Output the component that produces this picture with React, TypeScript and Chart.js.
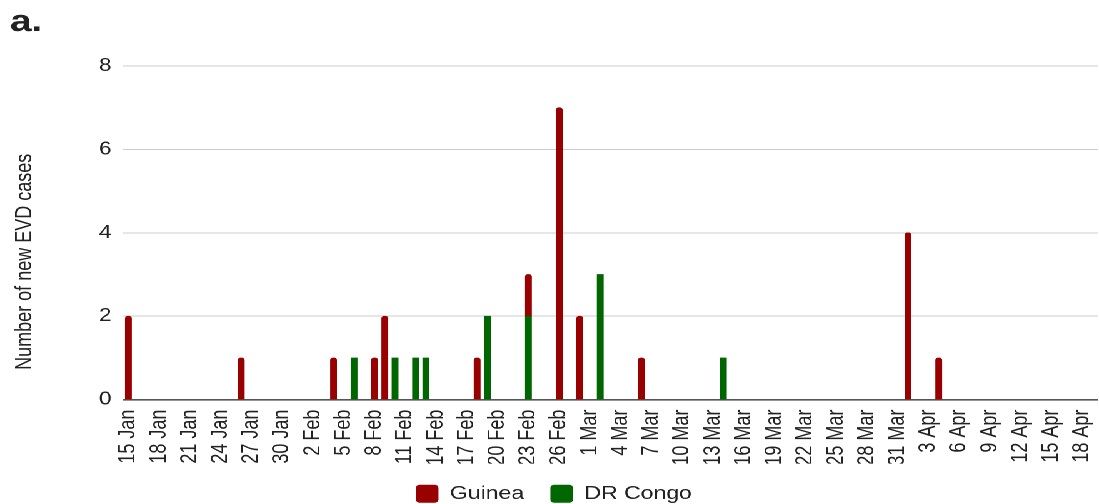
import React, { useEffect, useRef } from "react";
import { Chart, registerables } from "chart.js";

Chart.register(...registerables);

// Daily categories, 15 Jan – 19 Apr
const days = [
  "15 Jan", "16 Jan", "17 Jan", "18 Jan", "19 Jan", "20 Jan", "21 Jan", "22 Jan", "23 Jan", "24 Jan",
  "25 Jan", "26 Jan", "27 Jan", "28 Jan", "29 Jan", "30 Jan", "31 Jan",
  "1 Feb", "2 Feb", "3 Feb", "4 Feb", "5 Feb", "6 Feb", "7 Feb", "8 Feb", "9 Feb", "10 Feb",
  "11 Feb", "12 Feb", "13 Feb", "14 Feb", "15 Feb", "16 Feb", "17 Feb", "18 Feb", "19 Feb", "20 Feb",
  "21 Feb", "22 Feb", "23 Feb", "24 Feb", "25 Feb", "26 Feb", "27 Feb", "28 Feb",
  "1 Mar", "2 Mar", "3 Mar", "4 Mar", "5 Mar", "6 Mar", "7 Mar", "8 Mar", "9 Mar", "10 Mar",
  "11 Mar", "12 Mar", "13 Mar", "14 Mar", "15 Mar", "16 Mar", "17 Mar", "18 Mar", "19 Mar", "20 Mar",
  "21 Mar", "22 Mar", "23 Mar", "24 Mar", "25 Mar", "26 Mar", "27 Mar", "28 Mar", "29 Mar", "30 Mar", "31 Mar",
  "1 Apr", "2 Apr", "3 Apr", "4 Apr", "5 Apr", "6 Apr", "7 Apr", "8 Apr", "9 Apr", "10 Apr",
  "11 Apr", "12 Apr", "13 Apr", "14 Apr", "15 Apr", "16 Apr", "17 Apr", "18 Apr", "19 Apr",
];

const xTickLabels = [
  "15 Jan", "18 Jan", "21 Jan", "24 Jan", "27 Jan", "30 Jan", "2 Feb", "5 Feb", "8 Feb", "11 Feb",
  "14 Feb", "17 Feb", "20 Feb", "23 Feb", "26 Feb", "1 Mar", "4 Mar", "7 Mar", "10 Mar", "13 Mar",
  "16 Mar", "19 Mar", "22 Mar", "25 Mar", "28 Mar", "31 Mar", "3 Apr", "6 Apr", "9 Apr", "12 Apr",
  "15 Apr", "18 Apr",
];

const yTicks = [0, 2, 4, 6, 8];

// Guinea new cases
const guineaDates = ["15 Jan", "26 Jan", "4 Feb", "8 Feb", "9 Feb", "18 Feb", "23 Feb", "26 Feb", "28 Feb", "6 Mar", "1 Apr", "4 Apr"];
const guineaCounts = [2, 1, 1, 1, 2, 1, 1, 7, 2, 1, 4, 1];

// DR Congo new cases
const drcDates = ["6 Feb", "10 Feb", "12 Feb", "13 Feb", "19 Feb", "23 Feb", "2 Mar", "14 Mar"];
const drcCounts = [1, 1, 1, 1, 2, 2, 3, 1];

const seriesNames = ["Guinea", "DR Congo"];
const yTitle = "Number of new EVD cases";
const panelLabel = "a.";

const FONT = "'Liberation Sans', Arial, Helvetica, sans-serif";
const INNER_W = 879;
const OUTER_W = 1099;
const H = 504;

function toSeries(dates: string[], counts: number[]) {
  return days.map((d) => {
    const i = dates.indexOf(d);
    return i >= 0 ? counts[i] : null;
  });
}

const yTitlePlugin = {
  id: "yTitleCustom",
  afterDraw(chart: any) {
    const { ctx, chartArea } = chart;
    const xs = chart.scales.x;
    ctx.save();
    ctx.translate(20, (chartArea.top + xs.bottom) / 2 - 3);
    ctx.rotate(-Math.PI / 2);
    ctx.font = `18px ${FONT}`;
    ctx.fillStyle = "#222";
    ctx.textAlign = "center";
    ctx.textBaseline = "middle";
    ctx.fillText(yTitle, 0, 0);
    ctx.restore();
  },
};

export default function App() {
  const ref = useRef<HTMLCanvasElement | null>(null);

  useEffect(() => {
    if (!ref.current) return;
    Chart.defaults.font.family = FONT;
    const chart = new Chart(ref.current, {
      type: "bar",
      data: {
        labels: days,
        datasets: [
          {
            label: seriesNames[1],
            data: toSeries(drcDates, drcCounts),
            backgroundColor: "#006600",
            borderWidth: 0,
            barThickness: 4.8,
          },
          {
            label: seriesNames[0],
            data: toSeries(guineaDates, guineaCounts),
            backgroundColor: "#990000",
            borderWidth: 0,
            barThickness: 4.8,
            borderRadius: { topLeft: 2.4, topRight: 2.4, bottomLeft: 0, bottomRight: 0 },
            borderSkipped: "bottom",
          },
        ],
      },
      options: {
        animation: false,
        responsive: false,
        devicePixelRatio: 2,
        layout: { padding: { left: 8, right: 1, top: 0, bottom: -9 } },
        plugins: {
          title: {
            display: true,
            text: panelLabel,
            align: "start",
            color: "#222",
            font: { size: 31, weight: "bold", family: FONT },
            padding: { top: 4, bottom: 24.8 },
          },
          legend: {
            position: "bottom",
            labels: {
              color: "#222",
              font: { size: 18.4, family: FONT },
              boxWidth: 18,
              boxHeight: 18,
              padding: 21,
              useBorderRadius: true,
              borderRadius: 3,
              sort: (a: any, b: any) => b.datasetIndex - a.datasetIndex,
            },
          },
          tooltip: { enabled: false },
        },
        scales: {
          x: {
            stacked: true,
            offset: true,
            grid: { display: false, drawTicks: false },
            border: { display: true, color: "#555", width: 1.6 },
            ticks: {
              autoSkip: false,
              minRotation: 90,
              maxRotation: 90,
              padding: 10,
              color: "#222",
              font: { size: 18, family: FONT },
              callback: (_v: any, idx: number) => (xTickLabels.includes(days[idx]) ? days[idx] : ""),
            },
            afterFit: (scale: any) => {
              scale.height = 64;
              scale.paddingLeft = 0;
              scale.paddingRight = 0;
            },
          },
          y: {
            stacked: true,
            min: 0,
            max: 8,
            grid: {
              drawTicks: false,
              color: (c: any) => (c.tick && c.tick.value === 0 ? "rgba(0,0,0,0)" : "#cccccc"),
              lineWidth: 1,
            },
            border: { display: false },
            afterBuildTicks: (scale: any) => {
              scale.ticks = yTicks.map((v) => ({ value: v }));
            },
            ticks: {
              padding: 9.5,
              color: "#222",
              font: { size: 18, family: FONT },
            },
            afterFit: (scale: any) => {
              scale.width = 90.6;
            },
          },
        },
      },
      plugins: [yTitlePlugin],
    });
    return () => chart.destroy();
  }, []);

  return (
    <div
      style={{
        position: "absolute",
        left: 0,
        top: 0,
        width: INNER_W,
        height: H,
        transform: `scaleX(${OUTER_W / INNER_W})`,
        transformOrigin: "0 0",
        background: "#fff",
      }}
    >
      <canvas ref={ref} width={INNER_W} height={H} style={{ display: "block" }} />
    </div>
  );
}
